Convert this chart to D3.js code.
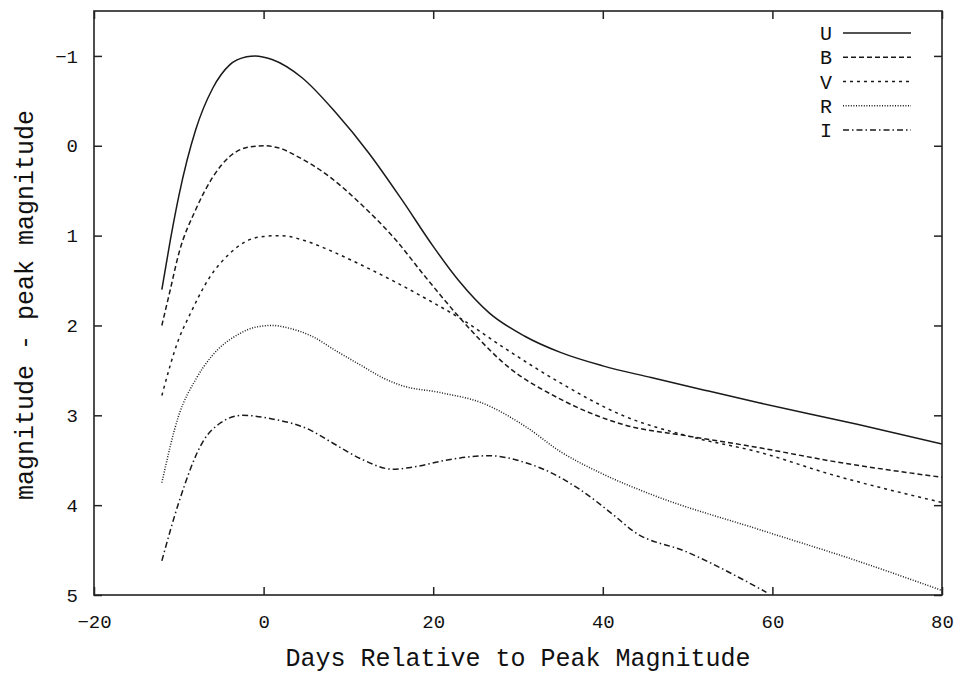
<!DOCTYPE html>
<html>
<head>
<meta charset="utf-8">
<script src="https://cdn.jsdelivr.net/npm/d3@7/dist/d3.min.js"></script>
<style>
  body { margin: 0; background: #fff; }
  text { font-family: "Liberation Mono", "Courier New", monospace; fill: #111; }
</style>
</head>
<body>
<div id="plot-box"></div>
<script>
// light curves: [day, magnitude - peak]
const bandU = [[-12,1.6],[-11,1.05],[-10,0.56],[-8,-0.18],[-6,-0.64],[-4,-0.9],[-2,-0.99],[-1,-1.0],[1,-0.96],[4.5,-0.76],[8.5,-0.37],[12.4,0.08],[16.3,0.6],[20,1.12],[23,1.5],[26.6,1.86],[30.8,2.12],[35,2.3],[40,2.45],[45.7,2.58],[52,2.72],[58.4,2.86],[70,3.1],[80,3.32]];
const bandB = [[-12,2.0],[-11,1.6],[-10,1.2],[-8,0.71],[-6,0.35],[-4,0.12],[-2,0.02],[0,0],[2,0.03],[4,0.12],[7.7,0.34],[11.6,0.66],[15.6,1.05],[19,1.45],[23,1.9],[28.7,2.45],[35,2.82],[42.3,3.1],[50,3.23],[58.4,3.36],[67,3.51],[80,3.69]];
const bandV = [[-12,2.78],[-10,2.15],[-8.8,1.9],[-6.4,1.47],[-4,1.2],[-2,1.06],[0,1.01],[2,1.0],[5,1.06],[7.7,1.16],[11.6,1.33],[15.6,1.52],[19.5,1.72],[23,1.91],[28.7,2.27],[35,2.64],[42.3,3.0],[50,3.23],[58.4,3.41],[67,3.66],[80,3.97]];
const bandR = [[-12,3.75],[-10,3.0],[-8,2.6],[-6.1,2.34],[-3,2.1],[-1,2.02],[1,2.0],[3,2.03],[5.7,2.12],[8.5,2.28],[11.6,2.45],[14,2.58],[16,2.66],[21,2.75],[25.7,2.86],[30.8,3.12],[35.1,3.41],[39.7,3.64],[45.7,3.88],[58.4,4.27],[70,4.62],[80,4.95]];
const bandI = [[-12,4.62],[-10,3.97],[-7.2,3.3],[-5,3.08],[-2.5,3.0],[1,3.04],[5.4,3.16],[8,3.3],[11.6,3.49],[15.2,3.6],[18,3.57],[21.5,3.5],[26.6,3.45],[31.3,3.54],[33,3.6],[37.2,3.82],[41.4,4.12],[43.6,4.29],[49.9,4.52],[59.3,4.97]];

const bandNames = ["U", "B", "V", "R", "I"];
const xTicks = [-20, 0, 20, 40, 60, 80];
const yTicks = [-1, 0, 1, 2, 3, 4, 5];

const lightCurves =
{
	draw: function ()
	{
		const width = 964, height = 676;
		const padd = {left: 94, right: 22, top: 11, bottom: 81};
		const series = [bandU, bandB, bandV, bandR, bandI];
		//line styles per band
		const dashes = ["none", "5,3", "3,4", "1,1.6", "6,3,1.5,3"];

		const svg = d3.select("#plot-box")
		.append("svg")
		.attr("width", width)
		.attr("height", height);

		const xScale = d3.scaleLinear()
		.domain([-20, 80])
		.range([padd.left, width - padd.right]);

		const yScale = d3.scaleLinear()
		.domain([-1.5, 5])
		.range([padd.top, height - padd.bottom]);

		//clip to the frame
		svg.append("clipPath")
		.attr("id", "frame-clip")
		.append("rect")
		.attr("x", padd.left)
		.attr("y", padd.top)
		.attr("width", xScale.range()[1] - padd.left)
		.attr("height", yScale.range()[1] - padd.top);

		//axes, ticks pointing inward
		const axes = [
			{axis: d3.axisBottom(xScale).tickValues(xTicks).tickFormat(d3.format("d")).tickPadding(20), at: `translate(0,${yScale.range()[1]})`},
			{axis: d3.axisTop(xScale).tickValues(xTicks).tickFormat(""), at: `translate(0,${padd.top})`},
			{axis: d3.axisLeft(yScale).tickValues(yTicks).tickFormat(d3.format("d")).tickPadding(16), at: `translate(${padd.left},0)`},
			{axis: d3.axisRight(yScale).tickValues(yTicks).tickFormat(""), at: `translate(${xScale.range()[1]},0)`}
		];
		axes.forEach(function (a)
		{
			const g = svg.append("g")
			.attr("transform", a.at)
			.call(a.axis.tickSizeInner(-8).tickSizeOuter(0));
			g.select(".domain").remove();
			g.selectAll("line").attr("stroke", "#222").attr("stroke-width", 1.5);
			g.selectAll("text").attr("font-size", 19).attr("fill", "#111")
			.attr("font-family", "'Liberation Mono', 'Courier New', monospace");
		});

		//frame
		svg.append("rect")
		.attr("x", padd.left)
		.attr("y", padd.top)
		.attr("width", xScale.range()[1] - padd.left)
		.attr("height", yScale.range()[1] - padd.top)
		.attr("fill", "none")
		.attr("stroke", "#222")
		.attr("stroke-width", 1.6);

		const line = d3.line()
		.x(d => xScale(d[0]))
		.y(d => yScale(d[1]))
		.curve(d3.curveMonotoneX);

		svg.append("g")
		.attr("clip-path", "url(#frame-clip)")
		.selectAll("path")
		.data(series)
		.enter()
		.append("path")
		.attr("d", line)
		.attr("fill", "none")
		.attr("stroke", "#1a1a1a")
		.attr("stroke-width", 1.5)
		.attr("stroke-dasharray", (d, i) => dashes[i]);

		//legend
		const legendY = d3.scalePoint()
		.domain(bandNames)
		.range([33, 130]);
		const legend = svg.append("g");
		legend.selectAll("text")
		.data(bandNames)
		.enter()
		.append("text")
		.attr("x", 826)
		.attr("y", d => legendY(d))
		.attr("dy", "0.35em")
		.attr("text-anchor", "middle")
		.attr("font-size", 20)
		.text(d => d);
		legend.selectAll("line")
		.data(bandNames)
		.enter()
		.append("line")
		.attr("x1", 843)
		.attr("x2", 911)
		.attr("y1", d => legendY(d))
		.attr("y2", d => legendY(d))
		.attr("stroke", "#1a1a1a")
		.attr("stroke-width", 1.5)
		.attr("stroke-dasharray", (d, i) => dashes[i]);

		//axis titles
		svg.append("text")
		.attr("x", 518)
		.attr("y", 666)
		.attr("text-anchor", "middle")
		.attr("font-size", 25)
		.text("Days Relative to Peak Magnitude");

		svg.append("text")
		.attr("transform", "translate(33,305) rotate(-90)")
		.attr("text-anchor", "middle")
		.attr("font-size", 25)
		.text("magnitude - peak magnitude");
	}
};

document.addEventListener("DOMContentLoaded", function ()
{
	lightCurves.draw();
});
</script>
</body>
</html>
